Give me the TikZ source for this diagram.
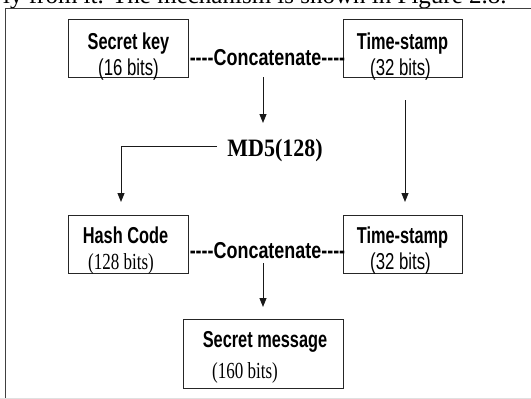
\documentclass[tikz,border=0pt]{standalone}
\usepackage{fontspec}
\setmainfont{Liberation Serif}
\newfontfamily\titlesans{Liberation Sans}[FakeStretch=0.71]
\newfontfamily\joinsans{Liberation Sans}[FakeStretch=0.78]
\newfontfamily\subsans{Liberation Sans}[FakeStretch=0.73]
\newfontfamily\subserif{Liberation Serif}[FakeStretch=0.74]
\newfontfamily\hashserif{Liberation Serif}[FakeStretch=0.88]
\usetikzlibrary{arrows.meta}

\tikzset{
  box/.style={draw=black!85, line width=1pt, inner sep=0pt,
    minimum width=120pt, minimum height=58pt},
  boxtitle/.style={anchor=base, inner sep=0pt,
    font=\titlesans\bfseries\fontsize{23}{26}\selectfont},
  bitssans/.style={anchor=base, inner sep=0pt,
    font=\subsans\fontsize{23}{26}\selectfont},
  bitsserif/.style={anchor=base, inner sep=0pt,
    font=\subserif\fontsize{23}{26}\selectfont},
  joinlabel/.style={anchor=base, inner sep=0pt,
    font=\joinsans\bfseries\fontsize{23}{26}\selectfont},
  flow/.style={draw=black!90, line width=1pt,
    -{Triangle[length=9pt,width=7pt]}},
}

\begin{document}
\begin{tikzpicture}[x=1pt,y=-1pt]
  \useasboundingbox (0,0) rectangle (531,399);
  \fill[white] (0,0) rectangle (531,399);

  % tail of the preceding text line, cut by the page edge
  \begin{scope}
    \clip (0,0) rectangle (531,8);
    \node[anchor=base west, inner sep=0pt, font=\fontsize{25}{28}\selectfont]
      (prev) at (3,3.5) {ly from it. The mechanism is shown in Figure 2.8.};
  \end{scope}

  % frame
  \draw[black!75, line width=1pt] (5,399) -- (5,8) -- (531,8);
  \draw[black!12, line width=1pt] (0,398.5) -- (531,398.5);

  % boxes
  \node[box] (key)   at (128,48)    {};
  \node[box, minimum width=119pt] (ts1) at (402.5,48) {};
  \node[box] (hash)  at (128,244)   {};
  \node[box, minimum width=119pt] (ts2) at (402.5,244) {};
  \node[box, minimum width=160pt, minimum height=69pt] (msg) at (263,353.5) {};

  % box texts
  \node[boxtitle]  (keyT)  at (128.5,49)  {Secret key};
  \node[bitssans]  (keyS)  at (128.5,75)  {(16 bits)};
  \node[boxtitle]  (ts1T)  at (402.5,49)  {Time-stamp};
  \node[bitssans]  (ts1S)  at (400.5,75)  {(32 bits)};
  \node[boxtitle]  (hashT) at (125.5,243) {Hash Code};
  \node[bitsserif] (hashS) at (121,269)   {(128 bits)};
  \node[boxtitle]  (ts2T)  at (402.5,243) {Time-stamp};
  \node[bitssans]  (ts2S)  at (400.5,269) {(32 bits)};
  \node[boxtitle]  (msgT)  at (265,347)   {Secret message};
  \node[bitsserif] (msgS)  at (245,378)   {(160 bits)};

  % joining labels
  \node[joinlabel] (cat1) at (267.5,65)  {----Concatenate----};
  \node[joinlabel] (cat2) at (267.5,258) {----Concatenate----};
  \node[anchor=base, inner sep=0pt,
        font=\hashserif\bfseries\fontsize{25}{28}\selectfont]
    (md5) at (275,156) {MD5(128)};

  % connector end points
  \coordinate (c1s) at (263,77);
  \coordinate (c1e) at (263,123);
  \coordinate (tss) at (405,100);
  \coordinate (tse) at (405,202);
  \coordinate (mds) at (217,146);
  \coordinate (mde) at (121,202);
  \coordinate (c2s) at (263,263);
  \coordinate (c2e) at (263,307);

  \draw[flow] (c1s) -- (c1e);
  \draw[flow] (tss) -- (tse);
  \draw[flow] (mds) -| (mde);
  \draw[flow] (c2s) -- (c2e);
\end{tikzpicture}
\end{document}
